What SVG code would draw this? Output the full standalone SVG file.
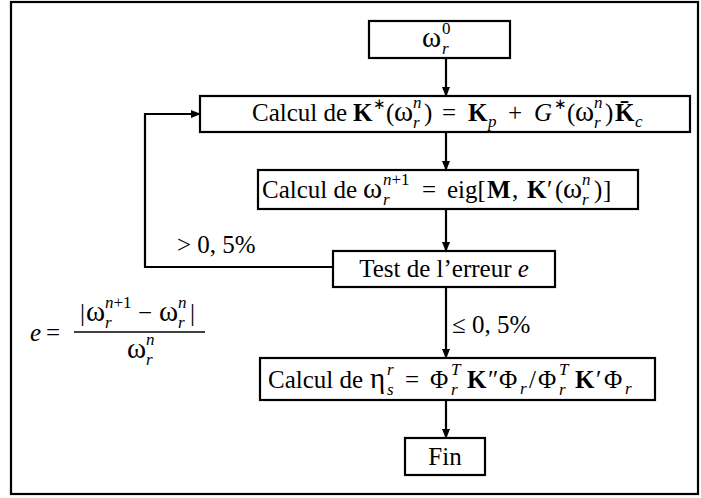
<svg xmlns="http://www.w3.org/2000/svg" width="701" height="498" viewBox="0 0 701 498">
<defs>
<marker id="ah" markerWidth="10" markerHeight="8" refX="9" refY="4" orient="auto" markerUnits="userSpaceOnUse">
<path d="M0,0 L10,4 L0,8 Z" fill="#000"/>
</marker>
<style>
.box{fill:#fff;stroke:#000;stroke-width:2.2}
.ln{fill:none;stroke:#000;stroke-width:2.2}
text{font-family:"Liberation Serif","Times New Roman",serif;font-size:25px;fill:#000}
.m{text-anchor:middle}
.i{font-style:italic}
.b{font-weight:bold}
.s{font-size:17px}
.st{font-size:15px}
.w{font-size:29px}
</style>
</defs>
<rect x="11" y="2" width="687" height="492" fill="#fff" stroke="#000" stroke-width="2.2"/>
<g id="connectors">
<line class="ln" x1="446" y1="58" x2="446" y2="96" marker-end="url(#ah)"/>
<line class="ln" x1="446" y1="132" x2="446" y2="170" marker-end="url(#ah)"/>
<line class="ln" x1="446" y1="209" x2="446" y2="251" marker-end="url(#ah)"/>
<polyline class="ln" points="333,267 145,267 145,114 200,114" marker-end="url(#ah)"/>
<line class="ln" x1="446" y1="287" x2="446" y2="358" marker-end="url(#ah)"/>
<line class="ln" x1="446" y1="400" x2="446" y2="438" marker-end="url(#ah)"/>
<text x="177" y="253">&gt; 0, 5%</text>
<text x="452" y="333">≤ 0, 5%</text>
</g>
<g id="n1">
<rect class="box" x="369" y="21" width="141" height="37"/>
<text x="422" y="47"><tspan class="w">ω</tspan><tspan class="s" x="442" y="34">0</tspan><tspan class="s i" x="442" y="54">r</tspan></text>
</g>
<g id="n2">
<rect class="box" x="200" y="96" width="490" height="36"/>
<text x="252" y="121">Calcul de</text>
<text x="353" y="121"><tspan class="b">K</tspan><tspan class="st" x="373" y="109">∗</tspan><tspan x="386" y="121">(</tspan><tspan class="w" x="394">ω</tspan><tspan class="s i" x="413" y="108">n</tspan><tspan class="s i" x="413" y="128">r</tspan><tspan x="424" y="121">)</tspan><tspan x="442">=</tspan><tspan class="b" x="468">K</tspan><tspan class="s i" x="488" y="127">p</tspan><tspan x="508" y="121">+</tspan><tspan class="i" x="534">G</tspan><tspan class="st" x="554" y="109">∗</tspan><tspan x="567" y="121">(</tspan><tspan class="w" x="575">ω</tspan><tspan class="s i" x="594" y="108">n</tspan><tspan class="s i" x="594" y="128">r</tspan><tspan x="605" y="121">)</tspan><tspan class="b" x="615">K̄</tspan><tspan class="s i" x="635" y="127">c</tspan></text>
</g>
<g id="n3">
<rect class="box" x="258" y="170" width="380" height="39"/>
<text x="262" y="198">Calcul de</text>
<text x="363" y="198"><tspan class="w">ω</tspan><tspan class="s i" x="383" y="185">n</tspan><tspan class="s">+1</tspan><tspan class="s i" x="383" y="205">r</tspan><tspan x="422" y="198">=</tspan><tspan x="447">eig[</tspan><tspan class="b" x="487">M</tspan><tspan x="512">,</tspan><tspan class="b" x="527">K</tspan><tspan x="547">′</tspan><tspan x="555">(</tspan><tspan class="w" x="563">ω</tspan><tspan class="s i" x="582" y="185">n</tspan><tspan class="s i" x="582" y="205">r</tspan><tspan x="594" y="198">)</tspan><tspan x="603">]</tspan></text>
</g>
<g id="n4">
<rect class="box" x="333" y="251" width="222" height="36"/>
<text class="m" x="444" y="277">Test de l’erreur <tspan class="i">e</tspan></text>
</g>
<g id="n5">
<rect class="box" x="260" y="358" width="395" height="42"/>
<text x="268" y="388">Calcul de</text>
<text x="370" y="388"><tspan class="w">η</tspan><tspan class="s i" x="387" y="375">r</tspan><tspan class="s i" x="387" y="395">s</tspan><tspan x="405" y="388">=</tspan><tspan x="430">Φ</tspan><tspan class="s i" x="451" y="375">T</tspan><tspan class="s i" x="451" y="395">r</tspan><tspan class="b" x="467" y="388">K</tspan><tspan x="488">″</tspan><tspan x="499">Φ</tspan><tspan class="s i" x="520" y="394">r</tspan><tspan x="529" y="388">/</tspan><tspan x="538">Φ</tspan><tspan class="s i" x="559" y="375">T</tspan><tspan class="s i" x="559" y="395">r</tspan><tspan class="b" x="575" y="388">K</tspan><tspan x="596">′</tspan><tspan x="604">Φ</tspan><tspan class="s i" x="625" y="394">r</tspan></text>
</g>
<g id="n6">
<rect class="box" x="405" y="438" width="80" height="37"/>
<text class="m" x="445" y="465">Fin</text>
</g>
<g id="formula">
<text class="i" x="30" y="341">e</text>
<text x="46" y="341">=</text>
<line x1="74" y1="332" x2="205" y2="332" stroke="#000" stroke-width="1.5"/>
<text x="80" y="321">|<tspan class="w" x="86">ω</tspan><tspan class="s i" x="105" y="308">n</tspan><tspan class="s">+1</tspan><tspan class="s i" x="105" y="328">r</tspan><tspan x="138" y="321">−</tspan><tspan class="w" x="159">ω</tspan><tspan class="s i" x="178" y="308">n</tspan><tspan class="s i" x="178" y="328">r</tspan><tspan x="190" y="321">|</tspan></text>
<text x="127" y="358"><tspan class="w">ω</tspan><tspan class="s i" x="146" y="345">n</tspan><tspan class="s i" x="146" y="365">r</tspan></text>
</g>
</svg>
